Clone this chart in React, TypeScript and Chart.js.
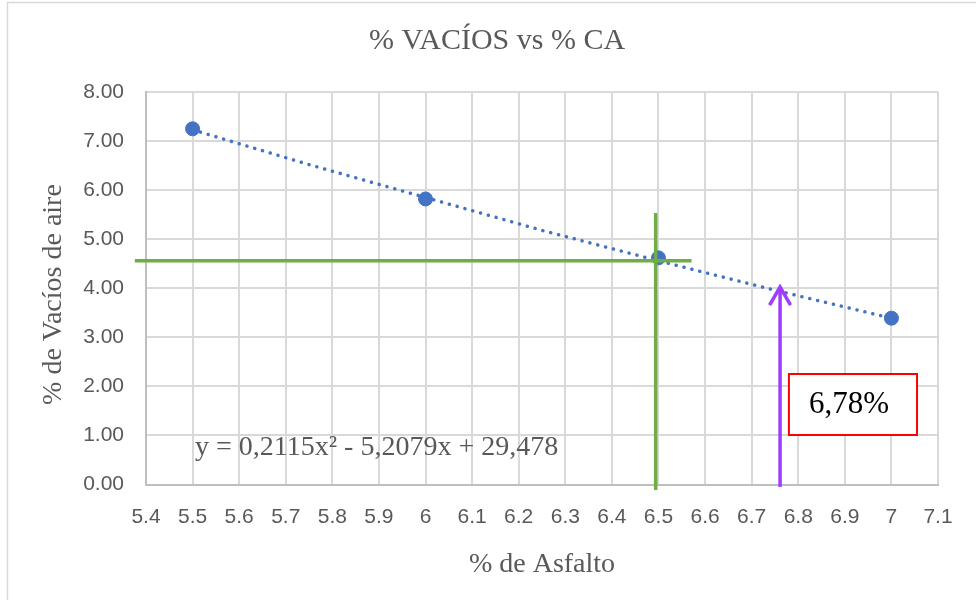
import React, { useEffect, useRef } from "react";
import { Chart, registerables } from "chart.js";

Chart.register(...registerables);

// ---- data ----
const asphaltPct = [5.5, 6, 6.5, 7];
const airVoidsPct = [7.25, 5.82, 4.62, 3.39];

const trendX = [5.5, 5.75, 6, 6.25, 6.5, 6.75, 7];
const trendY = [7.23, 6.52, 5.85, 5.18, 4.56, 3.96, 3.39];

const xTicks = [5.4, 5.5, 5.6, 5.7, 5.8, 5.9, 6, 6.1, 6.2, 6.3, 6.4, 6.5, 6.6, 6.7, 6.8, 6.9, 7, 7.1];
const xTickLabels = ["5.4", "5.5", "5.6", "5.7", "5.8", "5.9", "6", "6.1", "6.2", "6.3", "6.4", "6.5", "6.6", "6.7", "6.8", "6.9", "7", "7.1"];
const yTicks = [0, 1, 2, 3, 4, 5, 6, 7, 8];
const yTickLabels = ["0.00", "1.00", "2.00", "3.00", "4.00", "5.00", "6.00", "7.00", "8.00"];

const titleText = "% VACÍOS vs % CA";
const xTitle = "% de Asfalto";
const yTitle = "% de Vacíos de aire\u00a0\u2009";
const equationText = "y = 0,2115x² - 5,2079x + 29,478";
const resultText = "6,78%";

// ---- annotation anchors (data units) ----
const greenH = { y: 4.562, x1: 5.376, x2: 6.571 };
const greenV = { x: 6.494, y1: -0.112, y2: 5.534 };
const arrowV = { x: 6.761, y1: -0.05, y2: 4.066 };
const resultBox = { x1: 6.78, x2: 7.055, y1: 2.252, y2: 1.009, tx: 6.823, ty: 1.457 };
const equationPos = { x: 5.505, y: 0.6 };

const GRAY_TEXT = "#595959";
const SERIF = '"Liberation Serif", "Times New Roman", serif';
const SANS = '"Liberation Sans", Arial, sans-serif';

const bgPlugin = {
  id: "bg",
  beforeDraw(chart: any) {
    const { ctx, width, height } = chart;
    ctx.save();
    ctx.fillStyle = "#ffffff";
    ctx.fillRect(0, 0, width, height);
    ctx.strokeStyle = "#d9d9d9";
    ctx.lineWidth = 1.5;
    ctx.strokeRect(7.5, 2.5, width + 20, height + 20);
    ctx.restore();
  },
};

const annotPlugin = {
  id: "annot",
  afterDatasetsDraw(chart: any) {
    const { ctx } = chart;
    const x = chart.scales.x;
    const y = chart.scales.y;
    const px = (v: number) => x.getPixelForValue(v);
    const py = (v: number) => y.getPixelForValue(v);
    ctx.save();

    // equation
    ctx.fillStyle = GRAY_TEXT;
    ctx.font = `28px ${SERIF}`;
    ctx.textAlign = "left";
    ctx.textBaseline = "alphabetic";
    ctx.fillText(equationText, px(equationPos.x), py(equationPos.y));

    // green guide lines
    ctx.strokeStyle = "#70ad47";
    ctx.lineWidth = 3.5;
    ctx.lineCap = "butt";
    ctx.beginPath();
    ctx.moveTo(px(greenH.x1), py(greenH.y));
    ctx.lineTo(px(greenH.x2), py(greenH.y));
    ctx.stroke();
    ctx.beginPath();
    ctx.moveTo(px(greenV.x), py(greenV.y1));
    ctx.lineTo(px(greenV.x), py(greenV.y2));
    ctx.stroke();

    // purple arrow
    const ax = px(arrowV.x);
    const tipY = py(arrowV.y2);
    ctx.strokeStyle = "#a03cff";
    ctx.lineWidth = 3.5;
    ctx.beginPath();
    ctx.moveTo(ax, py(arrowV.y1));
    ctx.lineTo(ax, tipY + 2);
    ctx.stroke();
    ctx.lineJoin = "miter";
    ctx.beginPath();
    ctx.moveTo(ax - 10.5, tipY + 20);
    ctx.lineTo(ax, tipY + 2);
    ctx.lineTo(ax + 10.5, tipY + 20);
    ctx.stroke();

    // red result box
    ctx.strokeStyle = "#ff0000";
    ctx.lineWidth = 2;
    const bx1 = px(resultBox.x1), bx2 = px(resultBox.x2);
    const by1 = py(resultBox.y1), by2 = py(resultBox.y2);
    ctx.fillStyle = "#ffffff";
    ctx.fillRect(bx1, by1, bx2 - bx1, by2 - by1);
    ctx.strokeRect(bx1, by1, bx2 - bx1, by2 - by1);
    ctx.fillStyle = "#000000";
    ctx.font = `31px ${SERIF}`;
    ctx.fillText(resultText, px(resultBox.tx), py(resultBox.ty));

    ctx.restore();
  },
};

export default function App() {
  const ref = useRef<HTMLCanvasElement | null>(null);

  useEffect(() => {
    if (!ref.current) return;
    const chart = new Chart(ref.current, {
      type: "scatter",
      data: {
        datasets: [
          {
            label: "Vacíos",
            data: asphaltPct.map((v, i) => ({ x: v, y: airVoidsPct[i] })),
            backgroundColor: "#4472c4",
            borderColor: "#4472c4",
            pointRadius: 7,
            pointHoverRadius: 7,
            showLine: false,
          },
          {
            label: "Tendencia",
            data: trendX.map((v, i) => ({ x: v, y: trendY[i] })),
            showLine: true,
            borderColor: "#4472c4",
            borderWidth: 3.5,
            borderDash: [0.1, 8],
            borderCapStyle: "round",
            pointRadius: 0,
            fill: false,
          } as any,
        ],
      },
      options: {
        responsive: false,
        animation: false,
        events: [],
        layout: { padding: { left: 18, right: 0, top: 0, bottom: 0 } },
        plugins: {
          legend: { display: false },
          tooltip: { enabled: false },
          title: {
            display: true,
            text: titleText,
            color: GRAY_TEXT,
            font: { family: SERIF, size: 30, weight: "normal" },
            padding: { top: 22.9, bottom: 33.1 },
          },
        },
        scales: {
          x: {
            type: "linear",
            min: 5.4,
            max: 7.1,
            afterBuildTicks: (scale: any) => {
              scale.ticks = xTicks.map((v) => ({ value: v }));
            },
            afterFit: (scale: any) => {
              scale.height = 115.5;
            },
            ticks: {
              color: GRAY_TEXT,
              font: { family: SANS, size: 21 },
              padding: 20,
              maxRotation: 0,
              autoSkip: false,
              callback: (_v: any, i: number) => xTickLabels[i],
            },
            grid: { color: "#d9d9d9", lineWidth: 2, drawTicks: false },
            border: { display: true, color: "#bfbfbf", width: 2 },
            title: {
              display: true,
              text: xTitle,
              color: GRAY_TEXT,
              font: { family: SERIF, size: 28, weight: "normal" },
              padding: { top: 0, bottom: 18.7 },
            },
          },
          y: {
            type: "linear",
            min: 0,
            max: 8,
            afterBuildTicks: (scale: any) => {
              scale.ticks = yTicks.map((v) => ({ value: v }));
            },
            afterFit: (scale: any) => {
              scale.width = 128;
            },
            ticks: {
              color: GRAY_TEXT,
              font: { family: SANS, size: 21 },
              padding: 22,
              autoSkip: false,
              callback: (_v: any, i: number) => yTickLabels[i],
            },
            grid: { color: "#d9d9d9", lineWidth: 2, drawTicks: false },
            border: { display: true, color: "#bfbfbf", width: 2 },
            title: {
              display: true,
              text: yTitle,
              color: GRAY_TEXT,
              font: { family: SERIF, size: 28, weight: "normal" },
              padding: { top: 18.7, bottom: 0 },
            },
          },
          yRight: {
            type: "linear",
            position: "right",
            display: true,
            afterFit: (scale: any) => {
              scale.width = 38;
            },
            ticks: { display: false },
            grid: { display: false, drawTicks: false },
            border: { display: false },
          },
        },
      } as any,
      plugins: [bgPlugin, annotPlugin],
    });
    return () => chart.destroy();
  }, []);

  return (
    <div style={{ position: "absolute", left: 0, top: 0, width: 976, height: 600 }}>
      <canvas ref={ref} width={976} height={600} style={{ display: "block" }} />
    </div>
  );
}
